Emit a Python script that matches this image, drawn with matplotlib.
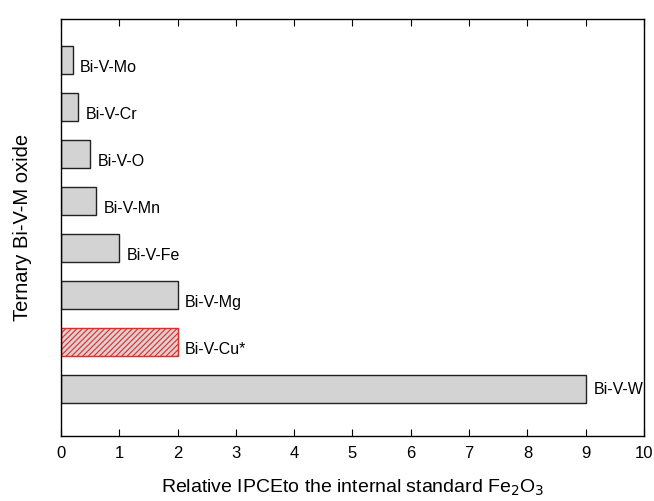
import matplotlib
matplotlib.use("Agg")
import matplotlib.pyplot as plt

plt.rcParams['font.family'] = ['Liberation Sans', 'DejaVu Sans']
plt.rcParams['hatch.linewidth'] = 0.8

labels = ["Bi-V-W", "Bi-V-Cu*", "Bi-V-Mg", "Bi-V-Fe", "Bi-V-Mn", "Bi-V-O", "Bi-V-Cr", "Bi-V-Mo"]
values = [9.0, 2.0, 2.0, 1.0, 0.6, 0.5, 0.3, 0.2]
xticks = list(range(0, 11))

fig = plt.figure(figsize=(6.54, 5.01), dpi=100)
ax = fig.add_axes([61/654, 1-436/501, (644-61)/654, (436-19)/501])

for i, (lab, v) in enumerate(zip(labels, values)):
    if lab == "Bi-V-Cu*":
        ax.barh(i, v, height=0.6, color='#d3d3d3', edgecolor='#ff2020', hatch='//////', linewidth=1.0)
    else:
        ax.barh(i, v, height=0.6, color='#d3d3d3', edgecolor='#222222', linewidth=1.0)
    dy = 0 if lab == "Bi-V-W" else -0.15
    ax.text(v + 0.13, i + dy, lab, ha='left', va='center', fontsize=11.5)

ax.set_xlim(0, 10)
ax.set_ylim(-1, 7.88)
ax.set_xticks(xticks)
ax.set_yticks([])
ax.tick_params(axis='x', direction='in', top=True, bottom=True, length=5, labelsize=12, pad=7)
for s in ax.spines.values():
    s.set_linewidth(1.0)
ax.set_xlabel("Relative IPCEto the internal standard Fe$_2$O$_3$", fontsize=14, labelpad=12)
ax.set_ylabel("Ternary Bi-V-M oxide", fontsize=14.5, labelpad=21)

fig.savefig("out.png", dpi=100)
